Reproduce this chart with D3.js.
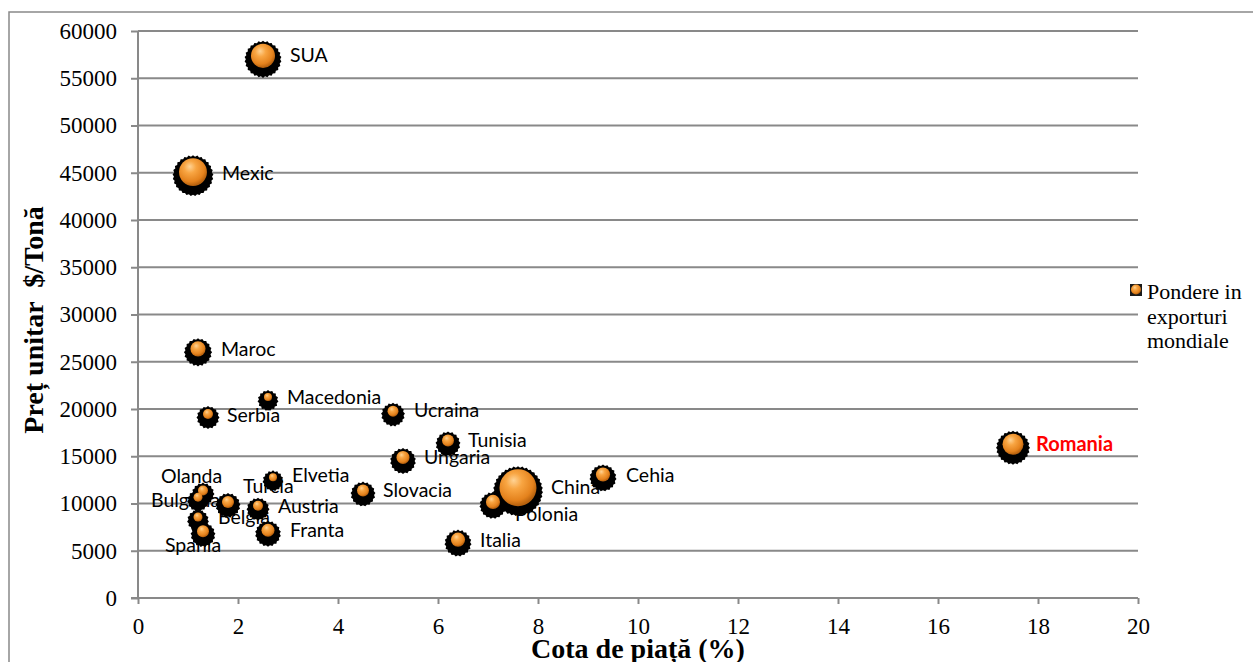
<!DOCTYPE html>
<html>
<head>
<meta charset="utf-8">
<script src="https://cdn.jsdelivr.net/npm/d3@7"></script>
<style>
  body { margin: 0; background: #fff; }
  svg { display: block; }
</style>
</head>
<body>
<svg id="chart" width="1253" height="662"></svg>
<script>
// data
const countries = ['SUA', 'Mexic', 'Maroc', 'Serbia', 'Macedonia', 'Ucraina', 'Tunisia', 'Ungaria', 'China', 'Polonia', 'Cehia',
    'Italia', 'Slovacia', 'Romania', 'Elvetia', 'Turcia', 'Austria', 'Franta', 'Olanda', 'Bulgaria', 'Belgia', 'Spania'];
const cotaPiata = [2.5, 1.1, 1.2, 1.4, 2.6, 5.1, 6.2, 5.3, 7.6, 7.1, 9.3, 6.4, 4.5, 17.5, 2.7, 1.8, 2.4, 2.6, 1.3, 1.2, 1.2, 1.3];
const pretUnitar = [57000, 44700, 26000, 19100, 20900, 19400, 16300, 14500, 11300, 9800, 12700, 5800, 11000, 15900, 12400, 9800,
    9400, 6800, 11000, 10300, 8200, 6700];
const pondere = [5.8, 7.8, 2.3, 1.0, 0.64, 1.2, 1.44, 1.7, 13.7, 2.0, 2.0, 2.0, 1.44, 4.4, 0.64, 1.44, 1.0, 1.7, 1.0, 0.8, 0.8, 1.44];
const xTicks = [0, 2, 4, 6, 8, 10, 12, 14, 16, 18, 20];
const yTicks = [0, 5000, 10000, 15000, 20000, 25000, 30000, 35000, 40000, 45000, 50000, 55000, 60000];
const legendLines = ['Pondere in', 'exporturi', 'mondiale'];

// where each data label sits relative to its bubble (px)
const labelNudge = {
    SUA: [27, 3], Mexic: [29, 4], Maroc: [23, 4], Serbia: [19, 4], Macedonia: [19, 4], Ucraina: [21, 2],
    Tunisia: [20, 3], Ungaria: [21, 3], China: [33, 3], Polonia: [22, 16], Cehia: [23, 4], Italia: [22, 4],
    Slovacia: [20, 3], Romania: [23, 3], Elvetia: [19, 1], Turcia: [15, -12], Austria: [20, 4], Franta: [22, 3],
    Olanda: [-42, -11], Bulgaria: [-47, 6], Belgia: [20, 3], Spania: [-38, 17]
};

const points = countries.map((c, i) => ({ name: c, x: cotaPiata[i], y: pretUnitar[i], size: pondere[i] }));

const svg = d3.select('#chart');
const margin = { top: 31, left: 138 };
const width = 1000, height = 567;
const gray = '#898989';

// outer frame
svg.append('rect')
    .attr('x', 9).attr('y', 12)
    .attr('width', 1300).attr('height', 700)
    .attr('fill', 'none').attr('stroke', gray).attr('stroke-width', 1.5);

const x = d3.scaleLinear().domain([0, 20]).range([0, width]);
const y = d3.scaleLinear().domain([0, 60000]).range([height, 0]);
const r = d3.scaleSqrt().domain([0, d3.max(pondere)]).range([0, 18.5]);

const defs = svg.append('defs');
const grad = defs.append('radialGradient').attr('id', 'ball')
    .attr('cx', '42%').attr('cy', '36%').attr('r', '62%').attr('fx', '38%').attr('fy', '30%');
grad.append('stop').attr('offset', '0%').attr('stop-color', '#ffd394');
grad.append('stop').attr('offset', '35%').attr('stop-color', '#f8a542');
grad.append('stop').attr('offset', '80%').attr('stop-color', '#e4821d');
grad.append('stop').attr('offset', '100%').attr('stop-color', '#b8620e');

const g = svg.append('g').attr('transform', 'translate(' + margin.left + ',' + margin.top + ')');

// horizontal gridlines
g.append('g')
    .selectAll('line')
    .data(yTicks.filter(d => d > 0))
    .enter().append('line')
    .attr('x1', 0).attr('x2', width)
    .attr('y1', d => y(d)).attr('y2', d => y(d))
    .attr('stroke', gray).attr('stroke-width', 2);

// axes
const yAxis = g.append('g')
    .call(d3.axisLeft(y).tickValues(yTicks).tickSize(7).tickPadding(14).tickFormat(d3.format('d')));
const xAxis = g.append('g')
    .attr('transform', 'translate(0,' + height + ')')
    .call(d3.axisBottom(x).tickValues(xTicks).tickSize(6).tickFormat(d3.format('d')));

[yAxis, xAxis].forEach(a => {
    a.select('.domain').remove();
    a.selectAll('line').attr('stroke', gray).attr('stroke-width', 2);
    a.selectAll('text').attr('fill', '#000')
        .style('font-family', '"Liberation Serif", "Times New Roman", serif').style('font-size', '23px');
});
xAxis.selectAll('text').attr('y', 36).attr('dy', 0);

g.append('line').attr('x1', 0).attr('x2', 0).attr('y1', 0).attr('y2', height)
    .attr('stroke', gray).attr('stroke-width', 2);
g.append('line').attr('x1', -7).attr('x2', width).attr('y1', height).attr('y2', height)
    .attr('stroke', gray).attr('stroke-width', 2);

// axis titles
svg.append('text')
    .attr('x', 638).attr('y', 658)
    .attr('text-anchor', 'middle')
    .style('font-family', '"Liberation Serif", serif').style('font-weight', 'bold').style('font-size', '28px')
    .text('Cota de piață (%)');

svg.append('text')
    .attr('transform', 'translate(43,320) rotate(-90)')
    .attr('text-anchor', 'middle')
    .attr('xml:space', 'preserve')
    .style('white-space', 'pre')
    .style('font-family', '"Liberation Serif", serif').style('font-weight', 'bold').style('font-size', '28px')
    .text('Preț unitar  $/Tonă');

// data labels (under the bubbles)
g.append('g')
    .selectAll('text')
    .data(points)
    .enter().append('text')
    .attr('x', d => x(d.x) + labelNudge[d.name][0])
    .attr('y', d => y(d.y) + labelNudge[d.name][1])
    .style('font-family', 'Lato, "Open Sans", sans-serif')
    .style('font-size', d => d.name === 'Romania' ? '20px' : '19.5px')
    .style('font-weight', d => d.name === 'Romania' ? 'bold' : 'normal')
    .attr('fill', d => d.name === 'Romania' ? '#ff0000' : '#000')
    .text(d => d.name);

// jagged black shadow round each ball
function shadowPath(R) {
    const teeth = Math.max(10, Math.round(2 * Math.PI * R / 4.5));
    const pts = d3.range(teeth * 2).map(k => [k * Math.PI / teeth, k % 2 ? R - 1.4 : R]);
    return d3.lineRadial().curve(d3.curveLinearClosed)(pts);
}

const sorted = points.slice().sort((a, b) => b.size - a.size);

g.append('g')
    .selectAll('path')
    .data(sorted)
    .enter().append('path')
    .attr('transform', d => 'translate(' + x(d.x) + ',' + y(d.y) + ')')
    .attr('d', d => shadowPath(r(d.size) + 6.5))
    .attr('fill', '#000');

g.append('g')
    .selectAll('circle')
    .data(sorted)
    .enter().append('circle')
    .attr('cx', d => x(d.x))
    .attr('cy', d => y(d.y) - 3.5)
    .attr('r', d => r(d.size))
    .attr('fill', 'url(#ball)');

// legend
const leg = svg.append('g').attr('transform', 'translate(1136,290)');
leg.append('rect').attr('x', -6).attr('y', -6).attr('width', 12).attr('height', 12).attr('fill', '#1a1a1a');
leg.append('circle').attr('cx', 0).attr('cy', -0.5).attr('r', 5).attr('fill', 'url(#ball)');
leg.append('g')
    .selectAll('text')
    .data(legendLines)
    .enter().append('text')
    .attr('x', 11)
    .attr('y', (d, i) => 9 + i * 24.5)
    .style('font-family', '"Liberation Serif", serif').style('font-size', '22px')
    .text(d => d);
</script>
</body>
</html>
